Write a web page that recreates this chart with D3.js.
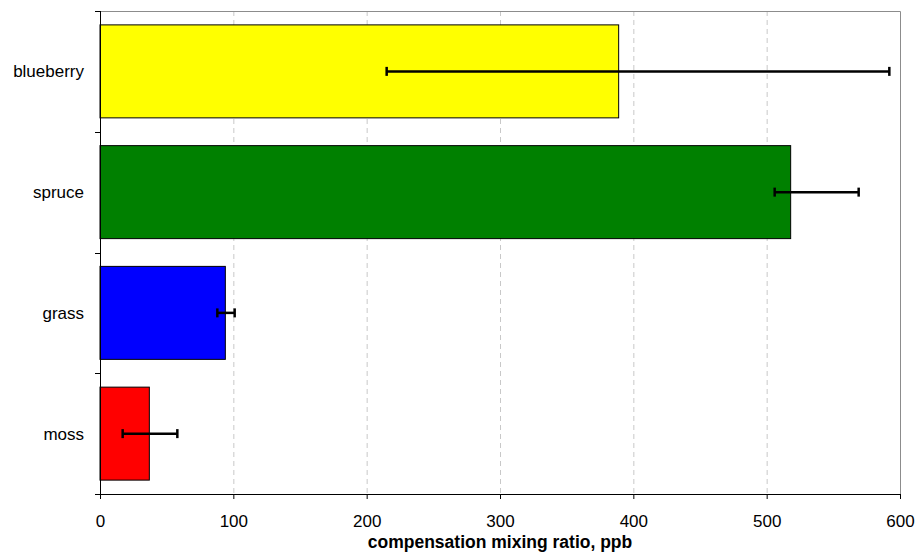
<!DOCTYPE html>
<html lang="en">
<head>
<meta charset="UTF-8"/>
<title>compensation mixing ratio</title>
<style>
  body { margin: 0; background: #fff; }
  svg text { font-family: "Liberation Sans", Arial, sans-serif; fill: #000; }
</style>
</head>
<body>
<div id="chart"></div>
<script src="https://cdn.jsdelivr.net/npm/d3@7"></script>
<script>

// data (ppb)
var categories = ["blueberry", "spruce", "grass", "moss"];
var values     = [389, 518, 94, 37];
var errLow     = [215, 506, 88, 17];
var errHigh    = [592, 569, 101, 58];
var barColors  = ["#ffff00", "#008000", "#0000ff", "#ff0000"];
var xTicks     = [0, 100, 200, 300, 400, 500, 600];
var xTitle     = "compensation mixing ratio, ppb";

var margin = {top: 11, right: 16, bottom: 66, left: 100}
  , width  = 916 - margin.left - margin.right
  , height = 560 - margin.top - margin.bottom;

var data = categories.map(function(c, i) {
  return {name: c, v: values[i], lo: errLow[i], hi: errHigh[i], color: barColors[i]};
});

var svg = d3.select("#chart").append("svg")
    .attr("width",  width + margin.left + margin.right)
    .attr("height", height + margin.top + margin.bottom)
  .append("g")
    .attr("transform", "translate(" + margin.left + "," + margin.top + ")");

var xScale = d3.scaleLinear().domain([0, 600]).range([0, width]);
var yScale = d3.scaleBand().domain(categories).range([0, height])
    .paddingInner(0.23).paddingOuter(0.115);

// grid lines (dashed)
svg.append("g").selectAll("line")
    .data(xTicks.slice(1, -1))
    .enter().append("line")
      .attr("x1", function(d) { return xScale(d) + 0.5; })
      .attr("x2", function(d) { return xScale(d) + 0.5; })
      .attr("y1", 0).attr("y2", height)
      .attr("stroke", "#c8c8c8")
      .attr("stroke-dasharray", "5,4");

// plot frame: top and right in gray
svg.append("path")
    .attr("d", "M0,0.5H" + (width + 0.5) + "V" + height)
    .attr("fill", "none")
    .attr("stroke", "#8c8c8c");

// bars
svg.append("g").selectAll("rect")
    .data(data)
    .enter().append("rect")
      .attr("x", xScale(0))
      .attr("y", function(d) { return yScale(d.name); })
      .attr("width", function(d) { return xScale(d.v) - xScale(0); })
      .attr("height", yScale.bandwidth())
      .attr("fill", function(d) { return d.color; })
      .attr("stroke", "#000")
      .attr("stroke-width", 1);

// error bars
var eb = svg.append("g").selectAll("g")
    .data(data)
    .enter().append("g")
      .attr("transform", function(d) { return "translate(0," + (yScale(d.name) + yScale.bandwidth()/2) + ")"; });

eb.append("line")
    .attr("x1", function(d) { return xScale(d.lo); })
    .attr("x2", function(d) { return xScale(d.hi); })
    .attr("stroke", "#000").attr("stroke-width", 2.5);

eb.selectAll("line.cap")
    .data(function(d) { return [d.lo, d.hi]; })
    .enter().append("line")
      .attr("class", "cap")
      .attr("x1", function(d) { return xScale(d); })
      .attr("x2", function(d) { return xScale(d); })
      .attr("y1", -4.5).attr("y2", 4.5)
      .attr("stroke", "#000").attr("stroke-width", 2.5);

// x axis
var xAxis = svg.append("g")
    .attr("transform", "translate(0," + height + ")")
    .call(d3.axisBottom(xScale).tickValues(xTicks).tickSize(5).tickPadding(16));
xAxis.selectAll("text").style("font-size", "17px");

// y axis: ticks at category boundaries, labels centered in each band
var bounds = d3.range(categories.length + 1).map(function(i) { return i * height / categories.length; });
var yAxis = svg.append("g");
yAxis.append("line")
    .attr("x1", 0.5).attr("x2", 0.5).attr("y1", 0).attr("y2", height + 5)
    .attr("stroke", "#000");
yAxis.selectAll("line.tk")
    .data(bounds)
    .enter().append("line")
      .attr("class", "tk")
      .attr("x1", -5).attr("x2", 0)
      .attr("y1", function(d) { return Math.round(d) + 0.5; })
      .attr("y2", function(d) { return Math.round(d) + 0.5; })
      .attr("stroke", "#000");
yAxis.selectAll("text")
    .data(categories)
    .enter().append("text")
      .attr("x", -16)
      .attr("y", function(d) { return yScale(d) + yScale.bandwidth()/2; })
      .attr("dy", "0.35em")
      .style("text-anchor", "end")
      .style("font-size", "17px")
      .text(function(d) { return d; });

svg.selectAll(".domain").attr("stroke", "#000");

// x axis title
svg.append("text")
    .attr("x", width/2)
    .attr("y", height + 54)
    .style("text-anchor", "middle")
    .style("font-size", "17.5px")
    .style("font-weight", "bold")
    .text(xTitle);

</script>
</body>
</html>
